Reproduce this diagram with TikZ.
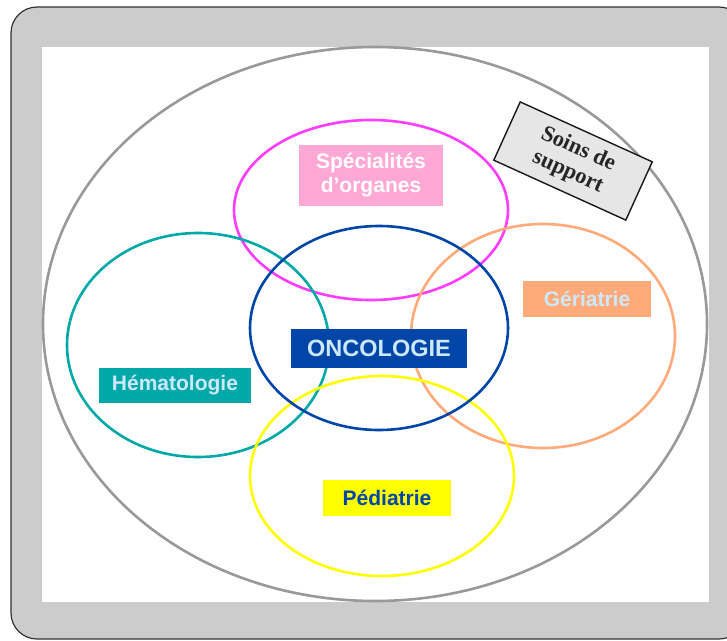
\documentclass[tikz,border=0pt]{standalone}
\usepackage{fontspec}
\setmainfont{Liberation Sans}
\newfontfamily\serifbold{Liberation Serif}
\definecolor{framegray}{HTML}{CCCCCC}
\definecolor{ringgray}{HTML}{999999}
\definecolor{magentaring}{HTML}{FF3CFF}
\definecolor{pinkfill}{HTML}{FFA8D6}
\definecolor{tealc}{HTML}{00A8A8}
\definecolor{bluec}{HTML}{0046A8}
\definecolor{orangec}{HTML}{FFAA78}
\definecolor{yellowc}{HTML}{FFFF00}
\definecolor{paleblue}{HTML}{CCE8FA}
\definecolor{boxgray}{HTML}{E6E6E6}
\begin{document}
\begin{tikzpicture}[x=1pt,y=-1pt,
  ring/.style={line width=2.6pt},
  tag/.style={rectangle, inner sep=0pt, font=\bfseries\fontsize{21}{24}\selectfont, align=center},
]
\useasboundingbox (0,0) rectangle (727,640);
% outer frame and white panel
\draw[fill=framegray, draw=black!80, line width=1.2pt, rounded corners=26pt] (11,7) rectangle (745,639);
\fill[white] (42,47) rectangle (709,602);
% surrounding ring
\draw[ring, ringgray] (375,324) ellipse [x radius=332pt, y radius=277pt];
% specialty rings
\draw[ring, magentaring] (371,210) ellipse [x radius=137pt, y radius=90pt];
\draw[ring, tealc] (198,345) ellipse [x radius=131pt, y radius=112pt];
\draw[ring, orangec] (543,336) ellipse [x radius=132pt, y radius=112pt];
\draw[ring, yellowc] (382,476) ellipse [x radius=132pt, y radius=100pt];
\draw[ring, bluec] (379,328) ellipse [x radius=129pt, y radius=102pt];
% labels
\node[tag, fill=pinkfill, text=white, minimum width=144pt, minimum height=61pt] (spec) at (371,175.5) {Spécialités\\d’organes};
\node[tag, fill=tealc, text=paleblue, minimum width=152pt, minimum height=35pt] (hema) at (175,385.5) {Hématologie};
\node[tag, fill=bluec, text=paleblue, minimum width=176pt, minimum height=39pt, font=\bfseries\fontsize{23.5}{26}\selectfont] (onco) at (379,348.5) {ONCOLOGIE};
\node[tag, fill=yellowc, text=bluec, minimum width=128pt, minimum height=36pt] (pedi) at (387,498) {Pédiatrie};
\node[tag, fill=orangec, text=paleblue, minimum width=128pt, minimum height=36pt] (geri) at (587,299) {Gériatrie};
\node[draw=black!90, line width=1.4pt, fill=boxgray, rectangle, inner sep=0pt, minimum width=145pt, minimum height=64pt, rotate=-24.4, align=center, text=black!85, font=\serifbold\bfseries\fontsize{22.5}{25}\selectfont] (soins) at (573,161) {Soins de\\support};
\end{tikzpicture}
\end{document}
